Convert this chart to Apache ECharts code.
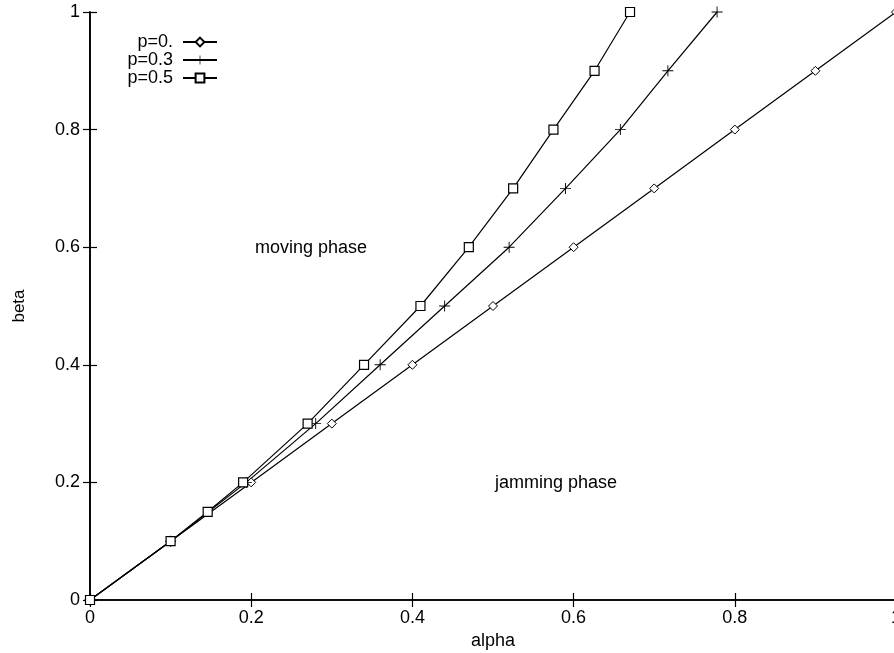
<!DOCTYPE html>
<html>
<head>
<meta charset="utf-8">
<script src="https://cdn.jsdelivr.net/npm/echarts@6/dist/echarts.min.js"></script>
<style>
  html, body { margin: 0; padding: 0; background: #fff; }
  #main { width: 894px; height: 653px; }
</style>
</head>
<body>
<div id="main"></div>
<script>
    // data (alpha, beta)
    var p0Alpha  = [0, 0.1, 0.2, 0.3, 0.4, 0.5, 0.6, 0.7, 0.8, 0.9, 1.0];
    var p0Beta   = [0, 0.1, 0.2, 0.3, 0.4, 0.5, 0.6, 0.7, 0.8, 0.9, 1.0];
    var p03Alpha = [0, 0.1, 0.194, 0.28, 0.36, 0.44, 0.52, 0.59, 0.658, 0.717, 0.778];
    var p03Beta  = [0, 0.1, 0.2, 0.3, 0.4, 0.5, 0.6, 0.7, 0.8, 0.9, 1.0];
    var p05Alpha = [0, 0.1, 0.146, 0.19, 0.27, 0.34, 0.41, 0.47, 0.525, 0.575, 0.626, 0.67];
    var p05Beta  = [0, 0.1, 0.15, 0.2, 0.3, 0.4, 0.5, 0.6, 0.7, 0.8, 0.9, 1.0];
    var seriesNames = ['p=0.', 'p=0.3', 'p=0.5'];

    function pairs(xs, ys) {
        return xs.map(function (x, i) { return [x, ys[i]]; });
    }
    function tickText(v) {
        return v === 0 || v === 1 ? String(v) : v.toFixed(1);
    }

    var font = '"Liberation Sans", Arial, Helvetica, sans-serif';
    var plus = 'path://M-0.5,-6H0.5V-0.5H6V0.5H0.5V6H-0.5V0.5H-6V-0.5H-0.5Z';
    var axisLine = { lineStyle: { color: '#000', width: 1.6 } };
    var axisTick = { inside: true, length: 7, lineStyle: { color: '#000', width: 1.2 } };

    var chart = echarts.init(document.getElementById('main'));
    chart.setOption({
        animation: false,
        backgroundColor: '#fff',
        grid: { left: 90, top: 12, width: 806, height: 588, outerBoundsMode: 'none' },
        legend: {
            orient: 'vertical',
            left: 110,
            top: 33,
            align: 'right',
            itemGap: 0,
            itemWidth: 34,
            itemHeight: 11,
            padding: 0,
            data: seriesNames,
            textStyle: { color: '#000', fontFamily: font, fontSize: 18, lineHeight: 17.5,
                width: 63, align: 'right', padding: [0, 5, 0, 0] }
        },
        xAxis: [
            {
                type: 'value', min: 0, max: 1, interval: 0.2,
                name: 'alpha', nameLocation: 'middle', nameGap: 29,
                nameTextStyle: { color: '#000', fontFamily: font, fontSize: 18 },
                axisLine: axisLine, axisTick: axisTick,
                axisLabel: { color: '#000', fontFamily: font, fontSize: 18, margin: 9, formatter: tickText },
                splitLine: { show: false }
            },
            {
                type: 'value', min: 0, max: 1, interval: 0.2, position: 'top',
                axisLine: axisLine, axisTick: axisTick,
                axisLabel: { show: false }, splitLine: { show: false }
            }
        ],
        yAxis: [
            {
                type: 'value', min: 0, max: 1, interval: 0.2,
                name: 'beta', nameLocation: 'middle', nameGap: 62,
                nameTextStyle: { color: '#000', fontFamily: font, fontSize: 17 },
                axisLine: axisLine, axisTick: axisTick,
                axisLabel: { color: '#000', fontFamily: font, fontSize: 18, margin: 10, formatter: tickText },
                splitLine: { show: false }
            },
            {
                type: 'value', min: 0, max: 1, interval: 0.2, position: 'right',
                axisLine: axisLine, axisTick: axisTick,
                axisLabel: { show: false }, splitLine: { show: false }
            }
        ],
        series: [
            {
                name: seriesNames[0], type: 'line', data: pairs(p0Alpha, p0Beta),
                symbol: 'diamond', symbolSize: 9, showAllSymbol: true,
                lineStyle: { color: '#000', width: 1.2 },
                itemStyle: { color: '#fff', borderColor: '#000', borderWidth: 1 }
            },
            {
                name: seriesNames[1], type: 'line', data: pairs(p03Alpha, p03Beta),
                symbol: plus, symbolSize: 11, showAllSymbol: true,
                lineStyle: { color: '#000', width: 1.2 },
                itemStyle: { color: '#000', borderColor: '#000', borderWidth: 0 }
            },
            {
                name: seriesNames[2], type: 'line', data: pairs(p05Alpha, p05Beta),
                symbol: 'rect', symbolSize: 9, showAllSymbol: true,
                lineStyle: { color: '#000', width: 1.2 },
                itemStyle: { color: '#fff', borderColor: '#000', borderWidth: 1.2 }
            }
        ],
        graphic: [
            { type: 'text', left: 255, top: 239, style: { text: 'moving phase', fill: '#000', font: '18px ' + font } },
            { type: 'text', left: 495, top: 474, style: { text: 'jamming phase', fill: '#000', font: '18px ' + font } }
        ]
    });
</script>
</body>
</html>
